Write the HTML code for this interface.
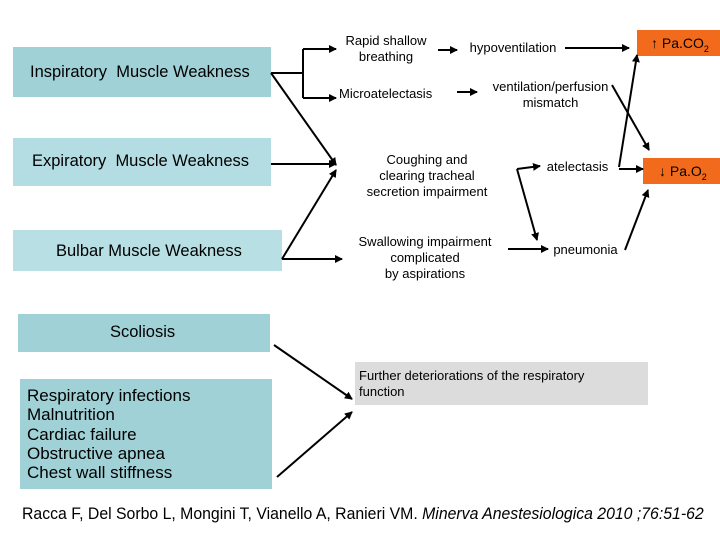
<!DOCTYPE html>
<html><head><style>
body{margin:0;width:720px;height:540px;background:#fff;position:relative;overflow:hidden;font-family:"Liberation Sans",sans-serif;}
.b{position:absolute;background:#a0d1d6;color:#000;font-size:16.5px;}
.t{position:absolute;font-size:13px;text-align:center;line-height:16px;color:#000;}
.o{position:absolute;background:#f26a1b;color:#000;font-size:14px;}
</style></head><body>
<div class="b" style="left:13px;top:47px;width:258px;height:50px;"><div style="position:absolute;left:17px;top:16px;white-space:nowrap;">Inspiratory&nbsp; Muscle Weakness</div></div>
<div class="b" style="left:13px;top:138px;width:258px;height:48px;background:#b3dde2;"><div style="position:absolute;left:19px;top:14px;white-space:nowrap;">Expiratory&nbsp; Muscle Weakness</div></div>
<div class="b" style="left:13px;top:230px;width:269px;height:41px;background:#b8dfe4;"><div style="position:absolute;left:43px;top:12px;white-space:nowrap;">Bulbar Muscle Weakness</div></div>
<div class="b" style="left:18px;top:314px;width:252px;height:38px;"><div style="position:absolute;left:92px;top:9px;">Scoliosis</div></div>
<div class="b" style="left:20px;top:379px;width:252px;height:110px;font-size:17px;"><div style="position:absolute;left:7px;top:7px;line-height:19.3px;white-space:nowrap;">Respiratory infections<br>Malnutrition<br>Cardiac failure<br>Obstructive apnea<br>Chest wall stiffness</div></div>
<div style="position:absolute;left:355px;top:362px;width:293px;height:43px;background:#dcdcdc;font-size:13px;line-height:16px;"><div style="padding:6px 0 0 4px;">Further deteriorations of the respiratory<br>function</div></div>
<div class="o" style="left:637px;top:30px;width:83px;height:26px;"><div style="position:absolute;left:14px;top:5px;white-space:nowrap;">↑ Pa.CO<sub style="font-size:9px">2</sub></div></div>
<div class="o" style="left:643px;top:158px;width:77px;height:26px;"><div style="position:absolute;left:16px;top:5px;white-space:nowrap;">↓ Pa.O<sub style="font-size:9px">2</sub></div></div>
<div class="t" style="left:336px;top:33px;width:100px;">Rapid shallow<br>breathing</div>
<div class="t" style="left:458px;top:40px;width:110px;">hypoventilation</div>
<div class="t" style="left:339px;top:86px;width:110px;text-align:left;">Microatelectasis</div>
<div class="t" style="left:478px;top:79px;width:145px;">ventilation/perfusion<br>mismatch</div>
<div class="t" style="left:352px;top:152px;width:150px;">Coughing and<br>clearing tracheal<br>secretion impairment</div>
<div class="t" style="left:540px;top:159px;width:75px;">atelectasis</div>
<div class="t" style="left:345px;top:234px;width:160px;">Swallowing impairment<br>complicated<br>by aspirations</div>
<div class="t" style="left:548px;top:242px;width:75px;">pneumonia</div>
<div style="position:absolute;left:22px;top:504px;font-size:17px;white-space:nowrap;transform:scaleX(0.93);transform-origin:0 0;">Racca F, Del Sorbo L, Mongini T, Vianello A, Ranieri VM. <i>Minerva Anestesiologica 2010 ;76:51-62</i></div>
<svg width="720" height="540" style="position:absolute;left:0;top:0;">
<defs><marker id="a" markerWidth="8" markerHeight="8" refX="7" refY="4" orient="auto" markerUnits="userSpaceOnUse"><path d="M0,0L8,4L0,8z" fill="#000"/></marker></defs>
<g stroke="#000" stroke-width="2" fill="none">
<polyline points="271,73 303,73"/>
<polyline points="303,49 303,98"/>
<line x1="303" y1="49" x2="336" y2="49" marker-end="url(#a)"/>
<line x1="303" y1="98" x2="336" y2="98" marker-end="url(#a)"/>
<line x1="271" y1="73" x2="336" y2="165" marker-end="url(#a)"/>
<line x1="271" y1="164" x2="336" y2="164" marker-end="url(#a)"/>
<line x1="282" y1="259" x2="336" y2="170" marker-end="url(#a)"/>
<line x1="282" y1="259" x2="342" y2="259" marker-end="url(#a)"/>
<line x1="438" y1="50" x2="457" y2="50" marker-end="url(#a)"/>
<line x1="565" y1="48" x2="629" y2="48" marker-end="url(#a)"/>
<line x1="457" y1="92" x2="477" y2="92" marker-end="url(#a)"/>
<line x1="612" y1="85" x2="649" y2="150" marker-end="url(#a)"/>
<line x1="619" y1="167" x2="637" y2="55" marker-end="url(#a)"/>
<line x1="619" y1="169" x2="643" y2="169" marker-end="url(#a)"/>
<line x1="517" y1="169" x2="540" y2="166" marker-end="url(#a)"/>
<line x1="517" y1="169" x2="537" y2="240" marker-end="url(#a)"/>
<line x1="508" y1="249" x2="548" y2="249" marker-end="url(#a)"/>
<line x1="625" y1="250" x2="648" y2="190" marker-end="url(#a)"/>
<line x1="274" y1="345" x2="352" y2="399" marker-end="url(#a)"/>
<line x1="277" y1="477" x2="352" y2="412" marker-end="url(#a)"/>
</g></svg>
</body></html>
